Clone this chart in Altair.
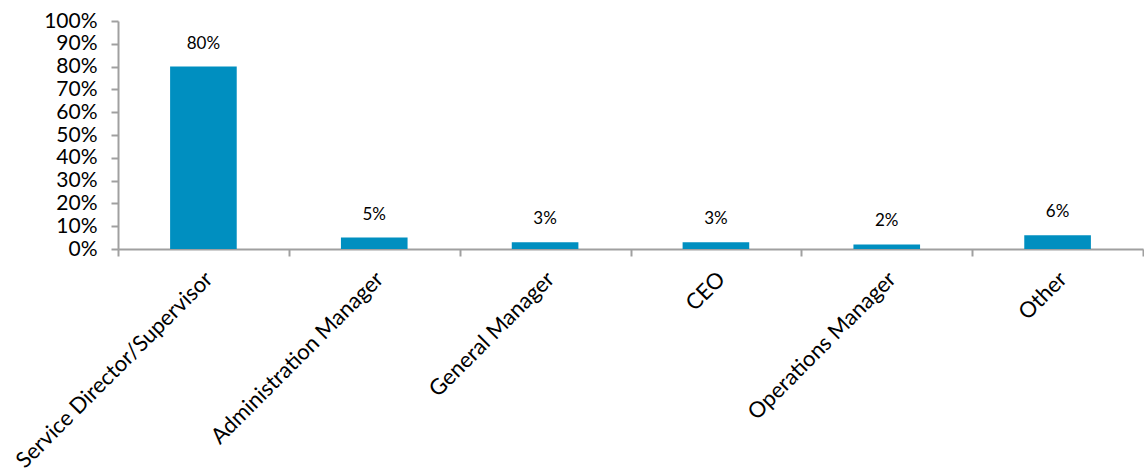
import altair as alt
import pandas as pd

categories = ["Service Director/Supervisor", "Administration Manager", "General Manager",
              "CEO", "Operations Manager", "Other"]
values = [0.80, 0.05, 0.03, 0.03, 0.02, 0.06]
labels = ["80%", "5%", "3%", "3%", "2%", "6%"]

df = pd.DataFrame({"cat": categories, "val": values, "lab": labels})

W, H = 1025, 228
FONT = "Lato"
GRAY = "#A0A0A0"

x = alt.X("cat:N", sort=categories, title=None,
          scale=alt.Scale(paddingInner=0, paddingOuter=0),
          axis=alt.Axis(tickBand="extent", labelOffset=-2,
                        labelAngle=-45, labelFont=FONT, labelFontSize=22,
                        labelColor="#000000", labelPadding=12, labelLimit=0,
                        labelOverlap=False,
                        domainColor=GRAY, domainWidth=2, tickColor=GRAY,
                        tickWidth=2, tickSize=7, labelAlign="right",
                        labelBaseline="top"))
y = alt.Y("val:Q", title=None,
          scale=alt.Scale(domain=[0, 1], nice=False),
          axis=alt.Axis(values=[i / 10 for i in range(11)], format=".0%",
                        labelFont=FONT, labelFontSize=21, labelColor="#000000",
                        labelOverlap=False, labelPadding=14, grid=False,
                        domainColor=GRAY, domainWidth=2, tickColor=GRAY,
                        tickWidth=2, tickSize=7))

bars = alt.Chart(df).mark_bar(width={"band": 0.39}, color="#008FC0").encode(x=x, y=y)
text = alt.Chart(df).mark_text(dy=-23, font=FONT, fontSize=17, color="#000000").encode(
    x=x, y=y, text="lab:N")

chart = (bars + text).properties(
    width=W, height=H,
    autosize=alt.AutoSizeParams(type="none"),
    padding={"left": 118, "top": 21, "right": 1, "bottom": 220},
).configure_view(stroke=None)

chart.save("out.html", embed_options={"renderer": "svg", "actions": False})
